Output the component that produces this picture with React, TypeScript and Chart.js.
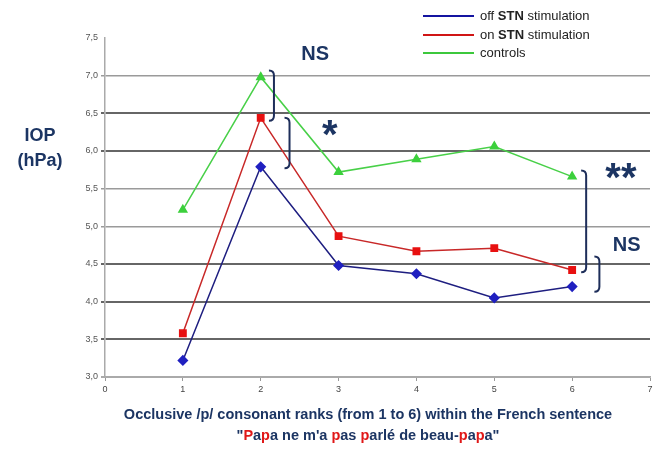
import React, { useEffect, useRef } from "react";
import { Chart, registerables } from "chart.js";

Chart.register(...registerables);

const ranks = [1, 2, 3, 4, 5, 6];
const offSTN = [3.22, 5.79, 4.48, 4.37, 4.05, 4.2];
const onSTN = [3.58, 6.44, 4.87, 4.67, 4.71, 4.42];
const controls = [5.22, 6.98, 5.72, 5.89, 6.06, 5.66];
const seriesNames = ["off STN stimulation", "on STN stimulation", "controls"];
const yTickValues = [3.0, 3.5, 4.0, 4.5, 5.0, 5.5, 6.0, 6.5, 7.0, 7.5];
const xTickValues = [0, 1, 2, 3, 4, 5, 6, 7];

const NAVY = "#1c3563";

const overlayPlugin = {
  id: "overlay",
  afterDraw(chart: any) {
    const ctx = chart.ctx as CanvasRenderingContext2D;
    const xs = chart.scales.x;
    const ys = chart.scales.y;
    ctx.save();

    // Y title
    ctx.fillStyle = NAVY;
    ctx.font = "bold 18px Arial, 'Liberation Sans', sans-serif";
    ctx.textAlign = "center";
    ctx.textBaseline = "middle";
    ctx.fillText("IOP", 40, 136);
    ctx.fillText("(hPa)", 40, 161);

    // X title line 1
    ctx.font = "bold 14.5px Arial, 'Liberation Sans', sans-serif";
    ctx.fillText(
      "Occlusive /p/ consonant ranks (from 1 to 6) within the French sentence",
      368,
      415
    );
    // X title line 2 with red p's
    const parts: [string, string][] = [
      ['"', NAVY],
      ["P", "#e01818"],
      ["a", NAVY],
      ["p", "#e01818"],
      ["a ne m'a ", NAVY],
      ["p", "#e01818"],
      ["as ", NAVY],
      ["p", "#e01818"],
      ["arlé de beau-", NAVY],
      ["p", "#e01818"],
      ["a", NAVY],
      ["p", "#e01818"],
      ['a"', NAVY],
    ];
    const full = parts.map((p) => p[0]).join("");
    const totalW = ctx.measureText(full).width;
    let cx = 368 - totalW / 2;
    ctx.textAlign = "left";
    for (const [t, c] of parts) {
      ctx.fillStyle = c;
      ctx.fillText(t, cx, 436);
      cx += ctx.measureText(t).width;
    }

    // Legend
    const legColors = ["#1414a0", "#d01515", "#3cc83c"];
    const legY = [16, 35, 53];
    for (let i = 0; i < 3; i++) {
      ctx.strokeStyle = legColors[i];
      ctx.lineWidth = 2;
      ctx.beginPath();
      ctx.moveTo(423, legY[i]);
      ctx.lineTo(474, legY[i]);
      ctx.stroke();
      ctx.fillStyle = "#222";
      ctx.textBaseline = "middle";
      const name = seriesNames[i];
      const segs = name.split(/(STN)/);
      let tx = 480;
      for (const s of segs) {
        if (!s) continue;
        ctx.font =
          (s === "STN" ? "bold " : "") + "13px Arial, 'Liberation Sans', sans-serif";
        ctx.fillText(s, tx, legY[i]);
        tx += ctx.measureText(s).width;
      }
    }

    // Brackets (data coordinates)
    const brackets = [
      [2.17, 7.07, 6.4],
      [2.37, 6.44, 5.77],
      [6.18, 5.74, 4.39],
      [6.35, 4.6, 4.13],
    ];
    ctx.strokeStyle = "#1e2e5a";
    ctx.lineWidth = 2;
    for (const [bx, bt, bb] of brackets) {
      const x = xs.getPixelForValue(bx);
      const t = ys.getPixelForValue(bt);
      const b = ys.getPixelForValue(bb);
      ctx.beginPath();
      ctx.moveTo(x - 5, t);
      ctx.quadraticCurveTo(x, t, x, t + 5);
      ctx.lineTo(x, b - 5);
      ctx.quadraticCurveTo(x, b, x - 5, b);
      ctx.stroke();
    }

    // Significance labels (centered on their visible glyph box)
    ctx.fillStyle = NAVY;
    ctx.textAlign = "center";
    ctx.textBaseline = "alphabetic";
    const labels: [string, number, number, number][] = [
      ["NS", 2.7, 7.3, 20],
      ["*", 2.886, 6.3, 40],
      ["**", 6.626, 5.735, 40],
      ["NS", 6.7, 4.76, 20],
    ];
    for (const [t, lx, ly, sz] of labels) {
      ctx.font = `bold ${sz}px Arial, 'Liberation Sans', sans-serif`;
      const m = ctx.measureText(t);
      const asc = m.actualBoundingBoxAscent;
      const desc = m.actualBoundingBoxDescent;
      const px = xs.getPixelForValue(lx);
      const py = ys.getPixelForValue(ly);
      ctx.fillText(t, px, py + (asc - desc) / 2);
    }
    ctx.restore();
  },
};

export default function App() {
  const ref = useRef<HTMLCanvasElement>(null);
  useEffect(() => {
    document.body.style.margin = "0";
    const toPts = (arr: number[]) => ranks.map((r, i) => ({ x: r, y: arr[i] }));
    const chart = new Chart(ref.current!, {
      type: "line",
      data: {
        datasets: [
          {
            label: seriesNames[0],
            data: toPts(offSTN),
            borderColor: "#1e1e80",
            backgroundColor: "#2020c0",
            pointBackgroundColor: "#2020c0",
            pointBorderColor: "#2020c0",
            pointStyle: "rectRot",
            pointRadius: 4.5,
            borderWidth: 1.5,
          },
          {
            label: seriesNames[1],
            data: toPts(onSTN),
            borderColor: "#c82828",
            backgroundColor: "#e81010",
            pointBackgroundColor: "#e81010",
            pointBorderColor: "#e81010",
            pointStyle: "rect",
            pointRadius: 4.5,
            borderWidth: 1.5,
          },
          {
            label: seriesNames[2],
            data: toPts(controls),
            borderColor: "#48d048",
            backgroundColor: "#3cd03c",
            pointBackgroundColor: "#3cd03c",
            pointBorderColor: "#3cd03c",
            pointStyle: "triangle",
            pointRadius: 4.5,
            borderWidth: 1.5,
          },
        ],
      },
      options: {
        animation: false,
        responsive: false,
        layout: { padding: { left: 75, right: 17, top: 38, bottom: 50 } },
        plugins: { legend: { display: false }, tooltip: { enabled: false } },
        scales: {
          x: {
            type: "linear",
            min: 0,
            max: 7,
            afterBuildTicks: (s: any) => {
              s.ticks = xTickValues.map((v) => ({ value: v }));
            },
            afterFit: (s: any) => {
              s.height = 22;
            },
            ticks: {
              color: "#444",
              font: { size: 9, family: "Arial, 'Liberation Sans', sans-serif" },
              padding: 3,
            },
            grid: {
              drawOnChartArea: false,
              drawTicks: true,
              tickLength: 4,
              color: "#999",
            },
            border: { color: "#aaa", width: 1.5 },
          },
          y: {
            type: "linear",
            min: 3,
            max: 7.5,
            afterBuildTicks: (s: any) => {
              s.ticks = yTickValues.map((v) => ({ value: v }));
            },
            afterFit: (s: any) => {
              s.width = 30;
            },
            ticks: {
              color: "#555",
              font: { size: 9, family: "Arial, 'Liberation Sans', sans-serif" },
              padding: 3,
              callback: (v: any) => Number(v).toFixed(1).replace(".", ","),
            },
            grid: {
              tickLength: 4,
              color: (c: any) => {
                const v = c.tick ? c.tick.value : 0;
                if (v >= 7.5) return "rgba(0,0,0,0)";
                if (v === 3) return "#aaa";
                if (v === 7 || v === 5.5 || v === 5) return "#9a9a9a";
                return "#666";
              },
              lineWidth: (c: any) => {
                const v = c.tick ? c.tick.value : 0;
                if (v === 7 || v === 5.5 || v === 5) return 1.5;
                return 2;
              },
            },
            border: { color: "#aaa", width: 1.5 },
          },
        },
      },
      plugins: [overlayPlugin],
    });
    return () => chart.destroy();
  }, []);
  return (
    <div style={{ width: 667, height: 449, background: "#fff" }}>
      <canvas ref={ref} width={667} height={449} style={{ display: "block" }} />
    </div>
  );
}
